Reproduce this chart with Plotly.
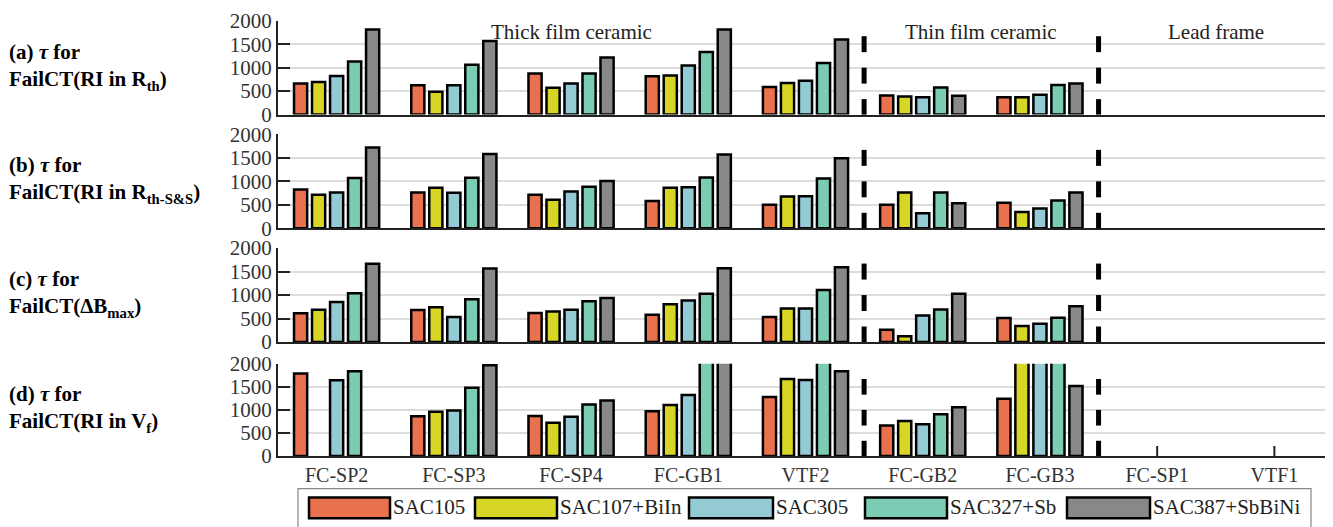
import plotly.graph_objects as go

# ---------------- data ----------------
categories = ["FC-SP2", "FC-SP3", "FC-SP4", "FC-GB1", "VTF2", "FC-GB2", "FC-GB3", "FC-SP1", "VTF1"]
series_names = ["SAC105", "SAC107+BiIn", "SAC305", "SAC327+Sb", "SAC387+SbBiNi"]

# (a) tau for FailCT(RI in Rth)
a_SAC105 = [660, 625, 875, 815, 590, 405, 370, None, None]
a_SAC107 = [695, 485, 570, 835, 675, 385, 370, None, None]
a_SAC305 = [820, 625, 665, 1045, 720, 370, 425, None, None]
a_SAC327 = [1130, 1060, 875, 1335, 1100, 580, 630, None, None]
a_SAC387 = [1810, 1565, 1215, 1810, 1600, 400, 665, None, None]

# (b) tau for FailCT(RI in Rth-S&S)
b_SAC105 = [825, 765, 715, 580, 500, 500, 545, None, None]
b_SAC107 = [715, 865, 610, 865, 680, 765, 350, None, None]
b_SAC305 = [765, 755, 785, 875, 685, 320, 420, None, None]
b_SAC327 = [1070, 1075, 885, 1080, 1060, 760, 590, None, None]
b_SAC387 = [1720, 1585, 1010, 1570, 1490, 535, 760, None, None]

# (c) tau for FailCT(dBmax)
c_SAC105 = [610, 680, 620, 580, 530, 260, 510, None, None]
c_SAC107 = [685, 740, 650, 805, 715, 120, 340, None, None]
c_SAC305 = [850, 530, 685, 885, 715, 565, 390, None, None]
c_SAC327 = [1040, 910, 870, 1025, 1110, 690, 515, None, None]
c_SAC387 = [1665, 1565, 935, 1570, 1590, 1025, 760, None, None]

# (d) tau for FailCT(RI in Vf)
d_SAC105 = [1790, 860, 865, 970, 1280, 660, 1240, None, None]
d_SAC107 = [None, 960, 720, 1105, 1670, 760, 2700, None, None]
d_SAC305 = [1640, 985, 850, 1320, 1650, 690, 2600, None, None]
d_SAC327 = [1840, 1480, 1115, 2500, 2300, 905, 2800, None, None]
d_SAC387 = [None, 1965, 1205, 2400, 1840, 1055, 1520, None, None]

panel_data = [
    [a_SAC105, a_SAC107, a_SAC305, a_SAC327, a_SAC387],
    [b_SAC105, b_SAC107, b_SAC305, b_SAC327, b_SAC387],
    [c_SAC105, c_SAC107, c_SAC305, c_SAC327, c_SAC387],
    [d_SAC105, d_SAC107, d_SAC305, d_SAC327, d_SAC387],
]
panel_labels = [
    "<b>(a) <i>τ</i> for<br>FailCT(RI in R<sub>th</sub>)</b>",
    "<b>(b) <i>τ</i> for<br>FailCT(RI in R<sub>th-S&S</sub>)</b>",
    "<b>(c) <i>τ</i> for<br>FailCT(ΔB<sub>max</sub>)</b>",
    "<b>(d) <i>τ</i> for<br>FailCT(RI in V<sub>f</sub>)</b>",
]
group_labels = ["Thick film ceramic", "Thin film ceramic", "Lead frame"]
group_label_pos = [2, 5.5, 7.5]
separator_pos = [4.5, 6.5]
y_ticks = [0, 500, 1000, 1500, 2000]

colors = ["#EA714E", "#D7D627", "#93CAD3", "#7ACCB4", "#888888"]

# ---------------- layout helpers ----------------
OFF = 8                      # default page (body) margin of the html page
W, H = 1333 - OFF, 527 - OFF
ML, MR, MT, MB = 278 - OFF, 0, 15 - OFF, 71
PW = W - ML - MR
PH = H - MT - MB
def fx(px):                  # screen x pixel -> paper fraction
    return (px - OFF - ML) / PW
def fy(py):                  # screen y pixel -> paper fraction
    return (H - MB - (py - OFF)) / PH

panel_px = [(15.7, 110.7), (130.7, 225.7), (245.7, 340.7), (362.7, 456.0)]
FONT = "Liberation Serif"
# dash segments of the separator lines (fraction of panel height from bottom)
dash_segments = [(0.0, 0.165), (0.33, 0.5), (0.665, 0.835)]

fig = go.Figure()
for p in range(4):
    ax = "" if p == 0 else str(p + 1)
    for s in range(5):
        fig.add_trace(go.Bar(
            x=categories, y=panel_data[p][s], name=series_names[s],
            marker=dict(color=colors[s], line=dict(color="black", width=2.5)),
            xaxis="x" + ax, yaxis="y" + ax, offsetgroup=str(s),
            showlegend=False,
        ))

layout = dict(
    width=W, height=H,
    margin=dict(l=ML, r=MR, t=MT, b=MB),
    paper_bgcolor="white", plot_bgcolor="white",
    barmode="group", bargap=0.232, bargroupgap=0.27,
    font=dict(family=FONT, size=20, color="#222"),
    showlegend=False,
)
shapes = []
annotations = []
for p in range(4):
    ax = "" if p == 0 else str(p + 1)
    top, bot = panel_px[p]
    layout["xaxis" + ax] = dict(
        domain=[0, 1], anchor="y" + ax, type="category",
        categoryorder="array", categoryarray=categories,
        range=[-0.5, 8.5], showline=True, linecolor="#222", linewidth=2,
        showgrid=False, zeroline=False, ticks="",
        showticklabels=(p == 3), tickfont=dict(family=FONT, size=20, color="#333"),
        fixedrange=True,
    )
    layout["yaxis" + ax] = dict(
        domain=[fy(bot), fy(top)], anchor="x" + ax, range=[0, 2000],
        tickvals=y_ticks, showline=True, linecolor="#222", linewidth=2,
        ticks="inside", ticklen=12, tickwidth=2, tickcolor="#222",
        showgrid=True, gridcolor="#DCDCDC", gridwidth=1.5, zeroline=False,
        tickfont=dict(family=FONT, size=21, color="#333"),
        fixedrange=True,
    )
    for xs in separator_pos:
        for (d0, d1) in dash_segments:
            shapes.append(dict(
                type="line", xref="x" + ax, yref="y" + ax + " domain", x0=xs, x1=xs,
                y0=d0, y1=d1, line=dict(color="black", width=5), layer="above",
            ))
    annotations.append(dict(
        text=panel_labels[p], xref="paper", yref="paper",
        x=fx(7), y=fy((top + bot) / 2 - 1), xanchor="left", yanchor="middle",
        align="left", showarrow=False, font=dict(family=FONT, size=21, color="black"),
    ))

# x tick marks of the bottom panel, drawn behind the bars
for i in range(len(categories)):
    shapes.append(dict(
        type="line", xref="x4", yref="y4", ysizemode="pixel", yanchor=0,
        x0=i, x1=i, y0=0, y1=10, line=dict(color="#222", width=2), layer="below",
    ))

for lbl, pos in zip(group_labels, group_label_pos):
    annotations.append(dict(
        text=lbl, xref="x", yref="paper", x=pos, y=fy(27), xanchor="center",
        yanchor="middle", showarrow=False, font=dict(family=FONT, size=21, color="#222"),
    ))

# manual legend
shapes.append(dict(type="rect", xref="paper", yref="paper",
                   x0=fx(298), x1=fx(1311), y0=fy(530), y1=fy(489),
                   line=dict(color="#888", width=1.2), fillcolor="white", layer="above"))
legend_rects = [(309, 390), (475, 557), (689, 773), (865, 947), (1067, 1150)]
for s, (x0, x1) in enumerate(legend_rects):
    shapes.append(dict(type="rect", xref="paper", yref="paper",
                       x0=fx(x0), x1=fx(x1), y0=fy(519), y1=fy(498),
                       line=dict(color="black", width=2.5), fillcolor=colors[s], layer="above"))
    annotations.append(dict(
        text=series_names[s], xref="paper", yref="paper", x=fx(x1 + 1), y=fy(508),
        xanchor="left", yanchor="middle", showarrow=False,
        font=dict(family=FONT, size=21, color="#222"),
    ))

layout["shapes"] = shapes
layout["annotations"] = annotations
fig.update_layout(**layout)
fig.write_html("out.html")
